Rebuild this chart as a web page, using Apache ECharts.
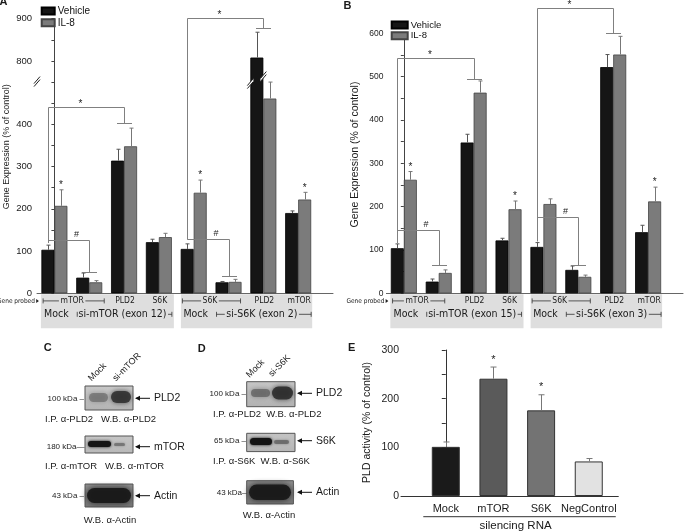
<!DOCTYPE html>
<html><head><meta charset="utf-8">
<script src="https://cdn.jsdelivr.net/npm/echarts@6.0.0/dist/echarts.min.js"></script>
<style>html,body{margin:0;padding:0;background:#fff}#c{width:685px;height:531px}</style>
</head><body><div id="c"></div>
<script>
// ---------------- data ----------------
const vehicleA    = [103, 37, 314, 121, 105, 26, 808, 190];
const vehicleAErr = [11, 11, 27, 7, 12, 2, 60, 5];
const il8A        = [207, 26, 348, 133, 238, 27, 461, 222];
const il8AErr     = [38, 4, 43, 9, 30, 6, 39, 17];
const vehicleB    = [104, 27, 348, 122, 107, 54, 522, 141];
const vehicleBErr = [10, 6, 19, 5, 10, 9, 29, 16];
const il8B        = [262, 47, 463, 194, 206, 38, 551, 212];
const il8BErr     = [19, 7, 27, 19, 12, 4, 42, 33];
const yTicksA = [0, 100, 200, 300, 400, 800, 900];
const yTicksB = [0, 100, 200, 300, 400, 500, 600];
const breakA = {start: 500, end: 750};
const geneRow = [[0, 1, 'mTOR'], [2, 2, 'PLD2'], [3, 3, 'S6K'], [4, 5, 'S6K'], [6, 6, 'PLD2'], [7, 7, 'mTOR']];
const treatRowA = [[0, 0, 'Mock'], [1, 3, 'si-mTOR (exon 12)'], [4, 4, 'Mock'], [5, 7, 'si-S6K (exon 2)']];
const treatRowB = [[0, 0, 'Mock'], [1, 3, 'si-mTOR (exon 15)'], [4, 4, 'Mock'], [5, 7, 'si-S6K (exon 3)']];
const starsA = [0, 4, 7];
const starsB = [0, 3, 7];
// [fromGroup, toGroup, level, leftFoot, rightFoot, mark]
const bracketsA = [[0, 2, 441, 119, 403, '*'], [0, 1, 125, 119, 51, '#'], [4, 6, 902, 127, 877, '*'], [4, 5, 129, 127, 41, '#']];
const bracketsB = [[0, 2, 542, 116, 494, '*'], [0, 1, 146, 116, 65, '#'], [4, 6, 658, 120, 600, '*'], [4, 5, 175, 120, 65, '#']];
const silencingCats = ['Mock', 'mTOR', 'S6K', 'NegControl'];
const pldActivity = [101, 241, 176, 71];
const pldActivityErr = [10, 24, 32, 6];
const yTicksE = [0, 100, 200, 300];
const starsE = [1, 2];

// ---------------- broken-axis scale for panel A ----------------
const gapA = breakA.end - breakA.start;
const brk = v => (v <= breakA.start ? v : v - gapA);        // data value -> axis value
const ident = v => v;

// ---------------- style ----------------
const F = "'Liberation Sans', Arial, Helvetica, sans-serif";
const FN = "'Liberation Sans Narrow', 'Arial Narrow', 'DejaVu Sans Condensed', sans-serif";
const BW = 13;
const chart = echarts.init(document.getElementById('c'));
const mctx = document.createElement('canvas').getContext('2d');
function tw(t, font) { mctx.font = font; return mctx.measureText(t).width; }

function barSeries(name, g, vals, color, border, tf) {
  return {type: 'bar', name, xAxisIndex: g, yAxisIndex: g, barWidth: BW, barGap: '0%',
    data: vals.map((v, i) => [i, tf(v)]), silent: true,
    itemStyle: {color, borderColor: border, borderWidth: 0.8}};
}
function errSeries(g, vals, errs, side, color, halfBar, cap, tf) {
  return {type: 'custom', xAxisIndex: g, yAxisIndex: g, silent: true, z: 3, clip: false,
    data: vals.map((v, i) => [i, tf(v), tf(v + errs[i]), side]),
    renderItem: (p, api) => {
      const x = api.value(0), s = api.value(3);
      const p0 = api.coord([x, api.value(1)]), p1 = api.coord([x, api.value(2)]);
      const cx = Math.round(p0[0] + s * halfBar) + 0.5;
      return {type: 'group', children: [
        {type: 'line', shape: {x1: cx, y1: p0[1], x2: cx, y2: p1[1]}, style: {stroke: color, lineWidth: 1}},
        {type: 'line', shape: {x1: cx - cap, y1: p1[1], x2: cx + cap, y2: p1[1]}, style: {stroke: color, lineWidth: 1}}
      ]};
    }};
}
function starSeries(g, idxs, vals, errs, side, halfBar, dy, fs, tf) {
  return {type: 'custom', xAxisIndex: g, yAxisIndex: g, silent: true, z: 4, clip: false,
    data: idxs.map(i => [i, tf(vals[i] + errs[i]), side]),
    renderItem: (p, api) => {
      const pt = api.coord([api.value(0), api.value(1)]);
      return {type: 'text', style: {text: '*', x: pt[0] + api.value(2) * halfBar, y: pt[1] - dy,
        align: 'center', verticalAlign: 'middle', font: fs + 'px ' + F, fill: '#222'}};
    }};
}
function bracketSeries(g, list, tf) {
  return {type: 'custom', xAxisIndex: g, yAxisIndex: g, silent: true, z: 4, clip: false,
    data: list.map(b => [b[0], b[1], tf(b[2]), tf(b[3]), tf(b[4]), b[5] === '*' ? 0 : 1]),
    renderItem: (p, api) => {
      const i0 = api.value(0), i1 = api.value(1), lev = api.value(2), lf = api.value(3), rf = api.value(4), k = api.value(5);
      const pL = api.coord([i0, lev]), pR = api.coord([i1, lev]);
      const xL = Math.round(pL[0] - BW / 2) + 0.5, xR = Math.round(pR[0]) + 0.5, yl = Math.round(pL[1]) + 0.5;
      const yLF = api.coord([i0, lf])[1], yRF = Math.round(api.coord([i1, rf])[1]) + 0.5;
      const tx = xL + (k === 0 ? 0.42 : 0.68) * (xR - xL);
      return {type: 'group', children: [
        {type: 'polyline', shape: {points: [[xL, yLF], [xL, yl], [xR, yl], [xR, yRF]]}, style: {stroke: '#808080', lineWidth: 1, fill: null}},
        {type: 'line', shape: {x1: xR - 7.5, y1: yRF, x2: xR + 7.5, y2: yRF}, style: {stroke: '#808080', lineWidth: 1}},
        {type: 'text', style: {text: k === 0 ? '*' : '#', x: tx, y: yl - (k === 0 ? 3 : 6),
          align: 'center', verticalAlign: 'middle', font: (k === 0 ? 10 : 9) + 'px ' + F, fill: '#222'}}
      ]};
    }};
}
// break marks "//" on the axis and on every bar that crosses the break
const breakMarks = [[-0.5, brk(breakA.start), 0]].concat(
  vehicleA.map((v, i) => [i, brk(breakA.start), v > breakA.end ? 1 : -1]).filter(d => d[2] === 1));
function slash(ex, y) {
  const a = [ex - 3, y + 1.5], b = [ex + 3, y - 5.5], c = [ex + 3, y - 2.5], d = [ex - 3, y + 4.5];
  return [
    {type: 'polygon', shape: {points: [a, b, c, d]}, style: {fill: '#fff'}},
    {type: 'line', shape: {x1: a[0], y1: a[1], x2: b[0], y2: b[1]}, style: {stroke: '#222', lineWidth: 1}},
    {type: 'line', shape: {x1: d[0], y1: d[1], x2: c[0], y2: c[1]}, style: {stroke: '#222', lineWidth: 1}}
  ];
}
const breakSeries = {type: 'custom', xAxisIndex: 0, yAxisIndex: 0, silent: true, z: 6, clip: false,
  data: breakMarks,
  renderItem: (p, api) => {
    const pt = api.coord([api.value(0), api.value(1)]);
    const ch = api.value(2) === 0 ? slash(pt[0], pt[1]) : slash(pt[0] - BW, pt[1] + 2).concat(slash(pt[0], pt[1] - 5));
    return {type: 'group', children: ch};
  }};

function yAxisBase(g, max, ticks, fs, margin, extra) {
  return Object.assign({gridIndex: g, type: 'value', min: 0, max, interval: 50,
    axisLine: {show: true, lineStyle: {color: '#444', width: 1}},
    axisTick: {show: true, length: 3, lineStyle: {color: '#444'}},
    axisLabel: {fontSize: fs, fontFamily: F, color: '#222', margin, showMaxLabel: true,
      formatter: v => (ticks.indexOf(Math.round(v)) >= 0 ? String(Math.round(v)) : '')},
    splitLine: {show: false}}, extra || {});
}
function xAxisBase(g, min, max, color) {
  return {gridIndex: g, type: 'value', min, max,
    axisLine: {show: true, onZero: false, lineStyle: {color, width: 1}},
    axisTick: {show: false}, axisLabel: {show: false}, splitLine: {show: false}};
}
const legendBase = (left, top, iw, gap, fs) => ({left, top, orient: 'vertical', itemWidth: iw, itemHeight: 7,
  itemGap: gap, padding: 0, selectedMode: false, data: ['Vehicle', 'IL-8'], icon: 'rect',
  textStyle: {fontSize: fs, fontFamily: F, color: '#111', lineHeight: 10, padding: [0, 0, 0, -2]}});

const option = {
  animation: false,
  backgroundColor: '#fff',
  grid: [
    {left: 37, top: 18.7, width: 296, height: 274.6},
    {left: 386.4, top: 33.3, width: 296.6, height: 260},
    {left: 401, top: 350, width: 217.3, height: 146}
  ],
  legend: [legendBase(40.7, 6, 13, 1.8, 10), legendBase(390.7, 20, 16, 0.8, 9.5)],
  xAxis: [xAxisBase(0, -0.5, 8, '#666'), xAxisBase(1, -0.5, 8, '#666'), xAxisBase(2, -0.94, 3.62, '#333')],
  yAxis: [
    yAxisBase(0, brk(900), [], 9.5, 2, {axisLabel: {show: false}}),
    yAxisBase(1, 600, yTicksB, 8.5, 3),
    yAxisBase(2, 300, yTicksE, 10.5, 2, {axisTick: {show: true, length: 4, lineStyle: {color: '#333'}}, axisLine: {show: true, lineStyle: {color: '#333'}}})
  ],
  series: [
    barSeries('Vehicle', 0, vehicleA, '#151515', '#000', brk),
    barSeries('IL-8', 0, il8A, '#7b7b7b', '#444', brk),
    barSeries('Vehicle', 1, vehicleB, '#151515', '#000', ident),
    barSeries('IL-8', 1, il8B, '#7b7b7b', '#444', ident),
    {type: 'bar', name: 'PLD activity', xAxisIndex: 2, yAxisIndex: 2, barWidth: 28, silent: true,
      data: pldActivity.map((v, i) => ({value: [i, v], itemStyle: {color: ['#1a1a1a', '#5a5a5a', '#737373', '#e2e2e2'][i]}})),
      itemStyle: {borderColor: '#333', borderWidth: 1}},
    errSeries(0, vehicleA, vehicleAErr, -1, '#555', BW / 2, 2, brk),
    errSeries(0, il8A, il8AErr, 1, '#777', BW / 2, 2, brk),
    errSeries(1, vehicleB, vehicleBErr, -1, '#555', BW / 2, 2, ident),
    errSeries(1, il8B, il8BErr, 1, '#777', BW / 2, 2, ident),
    errSeries(2, pldActivity, pldActivityErr, 0, '#777', 0, 3, ident),
    starSeries(0, starsA, il8A, il8AErr, 1, BW / 2, 4.5, 10, brk),
    starSeries(1, starsB, il8B, il8BErr, 1, BW / 2, 4.5, 10, ident),
    starSeries(2, starsE, pldActivity, pldActivityErr, 0, 0, 7.5, 11, ident),
    bracketSeries(0, bracketsA, brk),
    bracketSeries(1, bracketsB, ident),
    breakSeries
  ]
};
chart.setOption(option);

// ---------------- annotations (graphic) ----------------
const px = (g, x, y) => chart.convertToPixel({gridIndex: g}, [x, y]);
const G = [];
function T(text, x, y, font, align, vAlign, extra) {
  G.push(Object.assign({type: 'text', style: {text, x, y, font, fill: '#1a1a1a', align: align || 'center',
    verticalAlign: vAlign || 'middle'}}, extra || {}));
}
function L(x1, y1, x2, y2, c, w) {
  G.push({type: 'line', shape: {x1, y1, x2, y2}, style: {stroke: c || '#333', lineWidth: w || 0.8}});
}
function R(x, y, w, h, fill, extra) {
  G.push(Object.assign({type: 'rect', shape: {x, y, width: w, height: h}, style: {fill}}, extra || {}));
}
// tick labels of the broken axis A, placed through the axis scale
yTicksA.forEach(t => {
  const p = px(0, -0.5, brk(t));
  T(String(t), p[0] - 5, p[1], '9.5px ' + F, 'right', 'middle', {z: 100});
});
function rangeLabel(x1, x2, y, text, font, tcx) {
  const w = tw(text, font);
  const tl = tcx - w / 2 - 1.5, tr = tcx + w / 2 + 1.5;
  L(x1, y - 2.5, x1, y + 2.5); L(x1, y, tl, y); L(tr, y, x2, y); L(x2, y - 2.5, x2, y + 2.5);
  T(text, tcx, y, font);
}
function axisRows(g, treats, firstEndPad) {
  const y0 = px(g, 0, 0)[1];
  const c = i => px(g, i, 0)[0];
  R(c(0) - 13.5, y0 + 1, c(3) + 15 - (c(0) - 13.5), 34, '#dedede');
  R(c(4) - 12.8, y0 + 1, c(7) + 14 - (c(4) - 12.8), 34, '#dedede');
  const f1 = '8.5px ' + FN, f2 = '10.5px ' + FN;
  const r1 = y0 + 7.6, r2 = y0 + 21;
  T('Gene probed', c(0) - 19.5, r1, '6.5px ' + FN, 'right');
  G.push({type: 'polygon', shape: {points: [[c(0) - 18.2, r1 - 2], [c(0) - 15.5, r1], [c(0) - 18.2, r1 + 2]]}, style: {fill: '#222'}});
  geneRow.forEach((r, k) => {
    if (r[0] === r[1]) T(r[2], c(r[0]) + 1, r1, f1);
    else {
      const x1 = c(r[0]) - 11.3, x2 = c(r[1]) + (k === 0 ? firstEndPad : 12);
      rangeLabel(x1, x2, r1, r[2], f1, (x1 + x2) / 2 - 1.5);
    }
  });
  treats.forEach(r => {
    if (r[0] === r[1]) T(r[2], c(r[0]) + 2, r2, f2);
    else {
      const x1 = c(r[0]) - 12, x2 = c(r[1]) + 13;
      rangeLabel(x1, x2, r2, r[2], f2, (x1 + x2) / 2 - 2);
    }
  });
}
axisRows(0, treatRowA, 15);
axisRows(1, treatRowB, 6);

// axis names and panel letters
T('Gene Expression (% of control)', 0, 0, '9px ' + F, 'center', 'middle', {rotation: Math.PI / 2, x: 6.7, y: 146.7});
T('Gene Expression (% of control)', 0, 0, '10.5px ' + F, 'center', 'middle', {rotation: Math.PI / 2, x: 355, y: 154.5});
T('PLD activity (% of control)', 0, 0, '10.5px ' + F, 'center', 'middle', {rotation: Math.PI / 2, x: 367.3, y: 422.5});
const bold = 'bold 11px ' + F;
T('A', 3.5, 2, bold); T('B', 347.5, 6, bold); T('C', 47.8, 348.3, bold); T('D', 201.7, 349, bold); T('E', 351.7, 348.3, bold);

// E category labels
(function () {
  const yb = px(2, 0, 0)[1];
  const fE = '11px ' + F;
  silencingCats.forEach((s, i) => T(s, px(2, i, 0)[0], yb + 13.3, fE));
  const x1 = px(2, 0, 0)[0] - 22.5, x2 = px(2, silencingCats.length - 1, 0)[0] + 27;
  L(x1, yb + 20.7, x2, yb + 20.7, '#333', 1);
  T('silencing RNA', (x1 + x2) / 2 - 4, yb + 29.5, '11.5px ' + F);
})();

// western blots (C, D)
function blot(x, y, w, h, bg, bands) {
  R(x, y, w, h, bg, {style: {fill: bg, stroke: '#555', lineWidth: 1}});
  bands.forEach(b => G.push({type: 'rect', shape: {x: b[0], y: b[1], width: b[2], height: b[3], r: b[3] / 2},
    style: {fill: b[4], shadowBlur: b[5], shadowColor: b[4]}}));
}
const gBg = c => ({type: 'linear', x: 0, y: 0, x2: 0, y2: 1, colorStops: [{offset: 0, color: c[0]}, {offset: 1, color: c[1]}]});
blot(85, 386, 48, 24, gBg(['#c8c8c8', '#b4b4b4']), [[89, 393, 19, 9, 'rgba(105,105,105,0.7)', 5], [111, 391, 20, 12, 'rgba(50,50,50,0.9)', 5]]);
blot(85, 436, 48, 17, gBg(['#c6c6c6', '#b8b8b8']), [[88, 441, 23, 6, '#151515', 3], [114, 443, 11, 3, 'rgba(110,110,110,0.8)', 2.5]]);
blot(85, 484, 48, 23, gBg(['#8e8e8e', '#767676']), [[87, 488, 44, 15, 'rgba(25,25,25,0.95)', 6]]);
blot(246.7, 381.7, 48.3, 25, gBg(['#c6c6c6', '#b2b2b2']), [[251, 389, 19, 8, 'rgba(95,95,95,0.75)', 5], [272, 386.5, 21, 13, 'rgba(45,45,45,0.9)', 5]]);
blot(246.7, 433.3, 48.3, 18.3, gBg(['#c4c4c4', '#b6b6b6']), [[250, 438, 22, 7, '#141414', 3], [274, 440, 15, 4, 'rgba(100,100,100,0.8)', 2.5]]);
blot(246.7, 480.7, 46.7, 23.3, gBg(['#8e8e8e', '#767676']), [[249, 484.5, 42, 15.5, 'rgba(25,25,25,0.95)', 6]]);

const f8 = '8px ' + F, f95 = '9.5px ' + F, f11 = '10.5px ' + F, f9 = '9px ' + F;
// lane labels (rotated)
[['Mock', 93, 383], ['si-mTOR', 117.5, 383], ['Mock', 251, 379.5], ['si-S6K', 273.5, 378.5]].forEach(d =>
  T(d[0], 0, 0, f9, 'left', 'bottom', {x: d[1], y: d[2], rotation: Math.PI / 4}));
// size markers
T('100 kDa –', 84, 398.3, f8, 'right'); T('180 kDa—', 84.5, 446.7, f8, 'right'); T('43 kDa –', 84, 495.7, f8, 'right');
T('100 kDa –', 246, 393.3, f8, 'right'); T('65 kDa –', 246, 440.7, f8, 'right'); T('43 kDa–', 246.5, 492.3, f8, 'right');
// arrows
function arrowLabel(x, y, text) {
  L(x, y, x + 14, y, '#111', 1);
  G.push({type: 'polygon', shape: {points: [[x - 1, y], [x + 4, y - 2.5], [x + 4, y + 2.5]]}, style: {fill: '#111'}});
  T(text, x + 18, y, f11, 'left');
}
arrowLabel(136, 398.3, 'PLD2'); arrowLabel(136, 446.7, 'mTOR'); arrowLabel(136, 495.7, 'Actin');
arrowLabel(298, 393.3, 'PLD2'); arrowLabel(298, 440.7, 'S6K'); arrowLabel(298, 492.3, 'Actin');
// captions
T('I.P. α-PLD2   W.B. α-PLD2', 45, 419.3, f95, 'left');
T('I.P. α-mTOR   W.B. α-mTOR', 45, 466.7, f95, 'left');
T('W.B. α-Actin', 110, 520.7, f95);
T('I.P. α-PLD2  W.B. α-PLD2', 213, 414.3, f95, 'left');
T('I.P. α-S6K  W.B. α-S6K', 213, 461, f95, 'left');
T('W.B. α-Actin', 269, 515, f95);

chart.setOption({graphic: {elements: G}});
</script></body></html>
